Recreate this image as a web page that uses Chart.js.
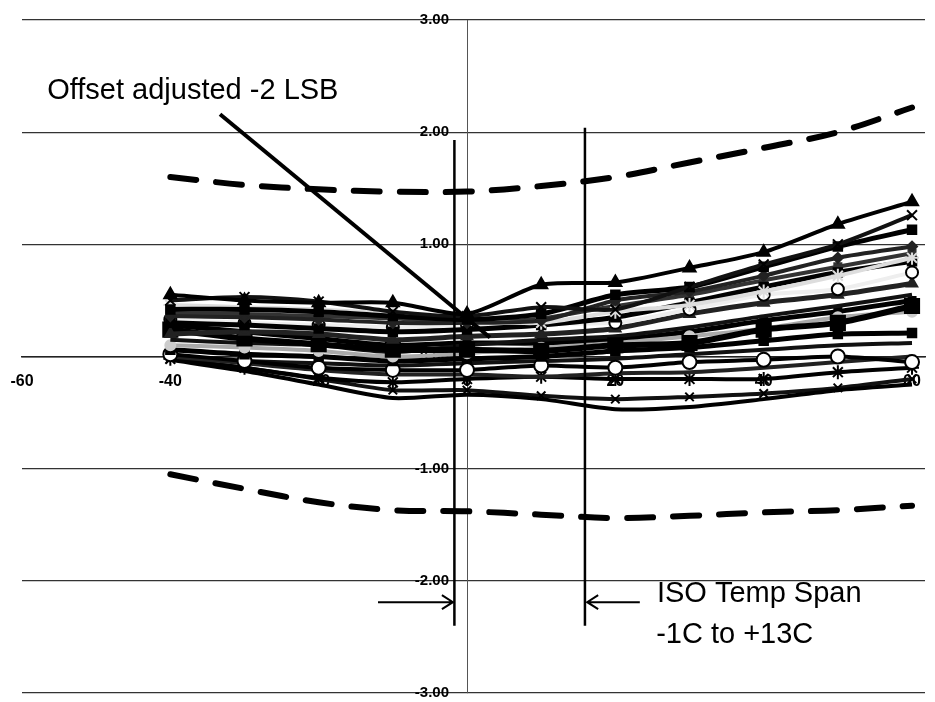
<!DOCTYPE html>
<html lang="en">
<head>
<meta charset="UTF-8">
<title>Offset drift vs temperature</title>
<script src="https://cdn.jsdelivr.net/npm/chart.js"></script>
<style>
  body { margin: 0; background: #fff; }
  #wrap { width: 935px; height: 702px; }
</style>
</head>
<body>
<div id="wrap"><canvas id="offsetChart" width="935" height="702"></canvas></div>
<script>
// temperature points (C)
const temps = [-40, -30, -20, -10, 0, 10, 20, 30, 40, 50, 60];
const xTicks = [-60, -40, -20, 0, 20, 40, 60];
const yTicks = [-3, -2, -1, 0, 1, 2, 3];

// limit curves (dashed)
const upperLimit = [1.60, 1.53, 1.49, 1.47, 1.47, 1.52, 1.60, 1.73, 1.86, 2.00, 2.22];
const lowerLimit = [-1.05, -1.18, -1.30, -1.37, -1.38, -1.41, -1.44, -1.42, -1.39, -1.37, -1.33];

// measured parts
const p01 = [0.55, 0.50, 0.48, 0.48, 0.38, 0.64, 0.66, 0.79, 0.93, 1.18, 1.38];
const p02 = [0.50, 0.53, 0.49, 0.40, 0.36, 0.44, 0.42, 0.62, 0.82, 1.00, 1.26];
const p03 = [0.42, 0.42, 0.40, 0.36, 0.33, 0.38, 0.55, 0.62, 0.80, 0.98, 1.13];
const p04 = [0.36, 0.35, 0.33, 0.30, 0.30, 0.32, 0.50, 0.58, 0.72, 0.88, 0.98];
const p05 = [0.46, 0.44, 0.42, 0.38, 0.32, 0.30, 0.40, 0.46, 0.58, 0.72, 0.88];
const p06 = [0.30, 0.28, 0.25, 0.22, 0.24, 0.28, 0.35, 0.48, 0.62, 0.75, 0.85];
const p07 = [0.33, 0.30, 0.28, 0.26, 0.28, 0.30, 0.30, 0.42, 0.55, 0.60, 0.75];
const p08 = [0.20, 0.22, 0.20, 0.15, 0.18, 0.20, 0.25, 0.38, 0.48, 0.55, 0.65];
const p09 = [0.24, 0.16, 0.11, 0.06, 0.06, 0.05, 0.10, 0.12, 0.24, 0.30, 0.45];
const p10 = [0.15, 0.12, 0.10, 0.04, 0.10, 0.15, 0.18, 0.26, 0.36, 0.45, 0.55];
const p11 = [0.10, 0.08, 0.05, 0.00, 0.03, 0.08, 0.12, 0.18, 0.25, 0.35, 0.40];
const p12 = [0.06, 0.02, 0.00, -0.04, -0.02, 0.00, 0.05, 0.08, 0.14, 0.20, 0.21];
const p13 = [0.02, -0.04, -0.10, -0.12, -0.12, -0.08, -0.10, -0.05, -0.03, 0.00, -0.05];
const p14 = [0.00, -0.06, -0.12, -0.16, -0.16, -0.18, -0.15, -0.14, -0.10, -0.05, 0.00];
const p15 = [-0.02, -0.10, -0.19, -0.23, -0.20, -0.18, -0.20, -0.20, -0.20, -0.14, -0.10];
const p16 = [-0.03, -0.13, -0.25, -0.37, -0.34, -0.38, -0.47, -0.45, -0.38, -0.30, -0.25];
const p17 = [-0.02, -0.10, -0.20, -0.30, -0.30, -0.35, -0.38, -0.36, -0.33, -0.28, -0.20];
const p18 = [0.28, 0.22, 0.16, 0.10, 0.12, 0.12, 0.15, 0.22, 0.32, 0.40, 0.50];
const p19 = [-0.01, -0.04, -0.06, -0.08, -0.06, -0.04, -0.02, 0.02, 0.06, 0.10, 0.12];
const p20 = [0.38, 0.38, 0.36, 0.34, 0.30, 0.34, 0.45, 0.55, 0.68, 0.80, 0.92];

const parts = [p01, p02, p03, p04, p05, p06, p07, p08, p09, p10,
               p11, p12, p13, p14, p15, p16, p17, p18, p19, p20];

// look of each part (line colour, width, marker)
const partStyles = [
  { c: '#000', w: 4, pt: 'triangle', r: 7, fill: '#000' },
  { c: '#111', w: 4, pt: 'crossRot', r: 7, fill: '#000' },
  { c: '#000', w: 5, pt: 'rect', r: 6, fill: '#000' },
  { c: '#222', w: 4, pt: 'rectRot', r: 5, fill: '#222' },
  { c: '#ddd', w: 4, pt: 'star', r: 7, fill: '#ddd' },
  { c: '#000', w: 5, pt: 'rect', r: 6, fill: '#000' },
  { c: '#eee', w: 4, pt: 'circle', r: 6, fill: '#fff' },
  { c: '#222', w: 5, pt: 'triangle', r: 6, fill: '#222' },
  { c: '#000', w: 6, pt: 'rect', r: 10, fill: '#000' },
  { c: '#111', w: 4, pt: false, r: 0, fill: '#000' },
  { c: '#aaa', w: 4, pt: 'circle', r: 5, fill: '#ccc' },
  { c: '#000', w: 5, pt: 'rect', r: 6, fill: '#000' },
  { c: '#000', w: 4, pt: 'circle', r: 7, fill: '#fff' },
  { c: '#222', w: 4, pt: false, r: 0, fill: '#000' },
  { c: '#000', w: 4, pt: 'star', r: 7, fill: '#000' },
  { c: '#000', w: 4, pt: false, r: 0, fill: '#000' },
  { c: '#111', w: 4, pt: 'crossRot', r: 6, fill: '#000' },
  { c: '#000', w: 5, pt: 'rect', r: 5, fill: '#000' },
  { c: '#111', w: 4, pt: false, r: 0, fill: '#000' },
  { c: '#333', w: 4, pt: 'rect', r: 5, fill: '#333' }
];

// hand drawn marks on the chart (data coordinates)
const marks = {
  isoLeft:  { x: -1.7, y1: 1.93, y2: -2.40 },
  isoRight: { x: 15.9, y1: 2.04, y2: -2.40 },
  pointer:  { x1: -33.3, y1: 2.16, x2: 3.1, y2: 0.17 },
  arrowL:   { x1: -12.0, x2: -1.9, y: -2.19 },
  arrowR:   { x1: 23.3, x2: 16.2, y: -2.19 },
  notes: [
    { text: 'Offset adjusted -2 LSB', x: -56.6, y: 2.30 },
    { text: 'ISO Temp Span', x: 25.6, y: -2.19 },
    { text: '-1C to +13C', x: 25.5, y: -2.55 }
  ]
};

const toPts = arr => arr.map((v, i) => ({ x: temps[i], y: v }));

const datasets = [];

// annotation lines on top
datasets.push({
  data: [{ x: marks.isoLeft.x, y: marks.isoLeft.y1 }, { x: marks.isoLeft.x, y: marks.isoLeft.y2 }],
  borderColor: '#000', borderWidth: 2.5, pointRadius: 0, order: 0
});
datasets.push({
  data: [{ x: marks.isoRight.x, y: marks.isoRight.y1 }, { x: marks.isoRight.x, y: marks.isoRight.y2 }],
  borderColor: '#000', borderWidth: 2.5, pointRadius: 0, order: 0
});
datasets.push({
  data: [{ x: marks.pointer.x1, y: marks.pointer.y1 }, { x: marks.pointer.x2, y: marks.pointer.y2 }],
  borderColor: '#000', borderWidth: 4, pointRadius: 0, order: 0
});

// limits
[upperLimit, lowerLimit].forEach(lim => {
  datasets.push({
    data: toPts(lim),
    borderColor: '#000', borderWidth: 6, borderDash: [26, 20], borderCapStyle: 'round',
    pointRadius: 0, tension: 0.35, order: 2
  });
});

// parts, first ones drawn on top
parts.forEach((p, i) => {
  const s = partStyles[i];
  datasets.push({
    data: toPts(p),
    borderColor: s.c,
    borderWidth: s.w,
    pointStyle: s.pt,
    pointRadius: s.r,
    pointBackgroundColor: s.fill,
    pointBorderColor: s.fill === '#fff' ? '#000' : s.fill,
    pointBorderWidth: 2,
    tension: 0.25,
    order: 1
  });
});

const notesPlugin = {
  id: 'notes',
  beforeDraw(chart) {
    // y labels sit a bit left of the centred axis
    chart.scales.y.getLabelItems(chart.chartArea).forEach(it => {
      if (!it.moved) { it.options.translation[0] -= 18; it.moved = true; }
    });
  },
  afterDatasetsDraw(chart) {
    const { ctx, scales: { x, y } } = chart;
    ctx.save();
    ctx.strokeStyle = '#000';
    ctx.lineWidth = 2;
    [marks.arrowL, marks.arrowR].forEach(a => {
      const x1 = x.getPixelForValue(a.x1), x2 = x.getPixelForValue(a.x2), yy = y.getPixelForValue(a.y);
      const dir = x2 > x1 ? 1 : -1;
      ctx.beginPath();
      ctx.moveTo(x1, yy); ctx.lineTo(x2, yy);
      ctx.moveTo(x2 - dir * 11, yy - 7); ctx.lineTo(x2, yy); ctx.lineTo(x2 - dir * 11, yy + 7);
      ctx.stroke();
    });
    ctx.fillStyle = '#000';
    ctx.font = '29px "Liberation Sans", Arial, sans-serif';
    ctx.textAlign = 'left';
    ctx.textBaseline = 'alphabetic';
    marks.notes.forEach(n => ctx.fillText(n.text, x.getPixelForValue(n.x), y.getPixelForValue(n.y)));
    ctx.restore();
  }
};

// centred axes: keep their label overhang from shrinking the plot
const noPad = axis => {
  axis.paddingLeft = 0; axis.paddingRight = 0;
  axis.paddingTop = 0; axis.paddingBottom = 0;
};

new Chart(document.getElementById('offsetChart'), {
  type: 'line',
  data: { datasets },
  options: {
    responsive: false,
    animation: false,
    layout: { autoPadding: false, padding: { left: 22, right: 10, top: 20, bottom: 9 } },
    plugins: { legend: { display: false }, tooltip: { enabled: false } },
    scales: {
      x: {
        type: 'linear',
        min: -60,
        max: 61.75,
        position: { y: 0 },
        afterBuildTicks: axis => { axis.ticks = xTicks.map(v => ({ value: v })); },
        afterFit: noPad,
        grid: { display: false, drawTicks: false },
        border: { display: true, color: '#222', width: 1.5 },
        ticks: {
          padding: 15,
          color: '#000',
          maxRotation: 0,
          font: { family: '"Liberation Sans", Arial, sans-serif', size: 16, weight: 'bold' },
          callback: v => String(v)
        }
      },
      y: {
        type: 'linear',
        min: -3,
        max: 3,
        position: { x: 0 },
        afterBuildTicks: axis => { axis.ticks = yTicks.map(v => ({ value: v })); },
        afterFit: noPad,
        grid: { color: '#333', lineWidth: 1.2, drawTicks: false },
        border: { display: true, color: '#555', width: 1 },
        ticks: {
          padding: 0,
          color: '#000',
          font: { family: '"Liberation Sans", Arial, sans-serif', size: 15, weight: 'bold' },
          callback: v => Number(v).toFixed(2)
        }
      }
    }
  },
  plugins: [notesPlugin]
});
</script>
</body>
</html>
